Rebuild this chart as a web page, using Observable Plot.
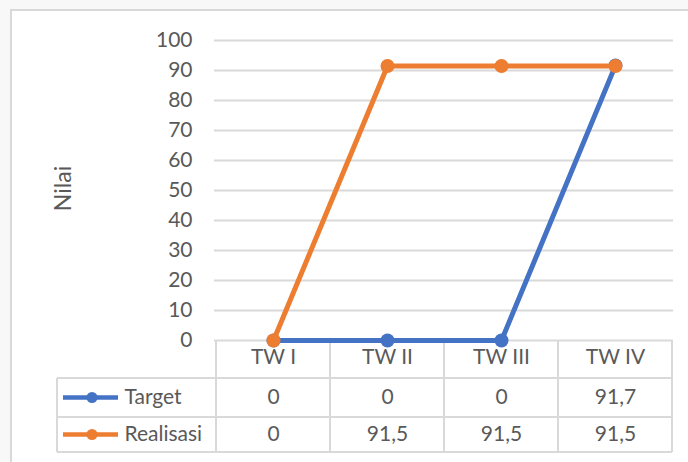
<!DOCTYPE html>
<html>
<head>
<meta charset="utf-8">
<script src="https://cdn.jsdelivr.net/npm/d3@7"></script>
<script src="https://cdn.jsdelivr.net/npm/@observablehq/plot@0.6"></script>
<style>
  html, body { margin: 0; padding: 0; width: 688px; height: 462px; overflow: hidden; background: #f8f8f8; }
  #frame { position: absolute; left: 10px; top: 9px; width: 700px; height: 480px; border-left: 2px solid #d9d9d9; border-top: 2px solid #d9d9d9; background: #ffffff; }
  #chart { position: absolute; left: 0; top: 0; }
</style>
</head>
<body>
<div id="frame"></div>
<div id="chart"></div>
<script>
const quarters = ["TW I", "TW II", "TW III", "TW IV"];
const targetValues = [0, 0, 0, 91.7];
const realisasiValues = [0, 91.5, 91.5, 91.5];
const seriesNames = ["Target", "Realisasi"];
const seriesColors = ["#4472C4", "#ED7D31"];
const yTicks = [0, 10, 20, 30, 40, 50, 60, 70, 80, 90, 100];
const yLabel = "Nilai";

const fmt = v => String(v).replace(".", ",");
const target = quarters.map((q, i) => ({q, v: targetValues[i]}));
const realisasi = quarters.map((q, i) => ({q, v: realisasiValues[i]}));

const textColor = "#595959";
const gridColor = "#d9d9d9";
const FONT = "Lato, 'Open Sans', sans-serif";
const tableLeft = 57;
const rowBottoms = [38, 77, 112];

function tableGrid(index, scales, values, dimensions) {
  const x = scales.x;
  const n = quarters.length;
  const plotW = dimensions.width - dimensions.marginLeft - dimensions.marginRight;
  const bw = x.bandwidth ? x.bandwidth() : plotW / n;
  const top = dimensions.height - dimensions.marginBottom;
  const x1 = x(quarters[n - 1]) + bw;
  const g = d3.create("svg:g");
  const lines = g.append("g").attr("stroke", gridColor).attr("stroke-width", 2).attr("fill", "none");
  rowBottoms.forEach(b => {
    lines.append("line").attr("x1", tableLeft).attr("x2", x1)
      .attr("y1", top + b).attr("y2", top + b);
  });
  quarters.forEach(q => {
    lines.append("line").attr("x1", x(q)).attr("x2", x(q)).attr("y1", top).attr("y2", top + rowBottoms[2]);
  });
  lines.append("line").attr("x1", x1).attr("x2", x1).attr("y1", top).attr("y2", top + rowBottoms[2]);
  lines.append("line").attr("x1", tableLeft).attr("x2", tableLeft).attr("y1", top + rowBottoms[0]).attr("y2", top + rowBottoms[2]);
  seriesNames.forEach((s, i) => {
    const cy = top + (rowBottoms[i] + rowBottoms[i + 1]) / 2;
    g.append("line").attr("x1", tableLeft + 6).attr("x2", tableLeft + 61)
      .attr("y1", cy).attr("y2", cy).attr("stroke", seriesColors[i]).attr("stroke-width", 4.5);
    g.append("circle").attr("cx", tableLeft + 35).attr("cy", cy).attr("r", 5.5).attr("fill", seriesColors[i]);
  });
  return g.node();
}

const chart = Plot.plot({
  width: 688,
  height: 462,
  marginLeft: 214,
  marginRight: 15,
  marginTop: 40,
  marginBottom: 122,
  style: {background: "transparent", fontFamily: FONT, fontSize: "21px", color: textColor},
  x: {type: "band", domain: quarters, padding: 0, axis: null},
  y: {domain: [0, 100], axis: null},
  marks: [
    Plot.ruleY(yTicks, {y: d => d, stroke: gridColor, strokeWidth: 2}),
    Plot.axisY(yTicks, {tickSize: 0, tickPadding: 22, label: null, fontSize: 21, fill: textColor}),
    Plot.text([yLabel], {frameAnchor: "left", dx: -151, dy: -2, rotate: -90, textAnchor: "middle", fontSize: 23, fill: textColor}),
    tableGrid,
    Plot.line(target, {x: "q", y: "v", stroke: seriesColors[0], strokeWidth: 5}),
    Plot.dot(target, {x: "q", y: "v", r: 7, fill: seriesColors[0]}),
    Plot.line(realisasi, {x: "q", y: "v", stroke: seriesColors[1], strokeWidth: 5}),
    Plot.dot(realisasi, {x: "q", y: "v", r: 7, fill: seriesColors[1]}),
    Plot.text(quarters, {x: d => d, frameAnchor: "bottom", dy: 23, fill: textColor, fontSize: 21}),
    Plot.text(target, {x: "q", text: d => fmt(d.v), frameAnchor: "bottom", dy: 63, fill: textColor, fontSize: 21}),
    Plot.text(realisasi, {x: "q", text: d => fmt(d.v), frameAnchor: "bottom", dy: 100, fill: textColor, fontSize: 21}),
    Plot.text([seriesNames[0]], {frameAnchor: "bottom-left", dx: 124 - 214, dy: 63, textAnchor: "start", fill: textColor, fontSize: 21}),
    Plot.text([seriesNames[1]], {frameAnchor: "bottom-left", dx: 124 - 214, dy: 100, textAnchor: "start", fill: textColor, fontSize: 21})
  ]
});
document.getElementById("chart").appendChild(chart);
</script>
</body>
</html>
